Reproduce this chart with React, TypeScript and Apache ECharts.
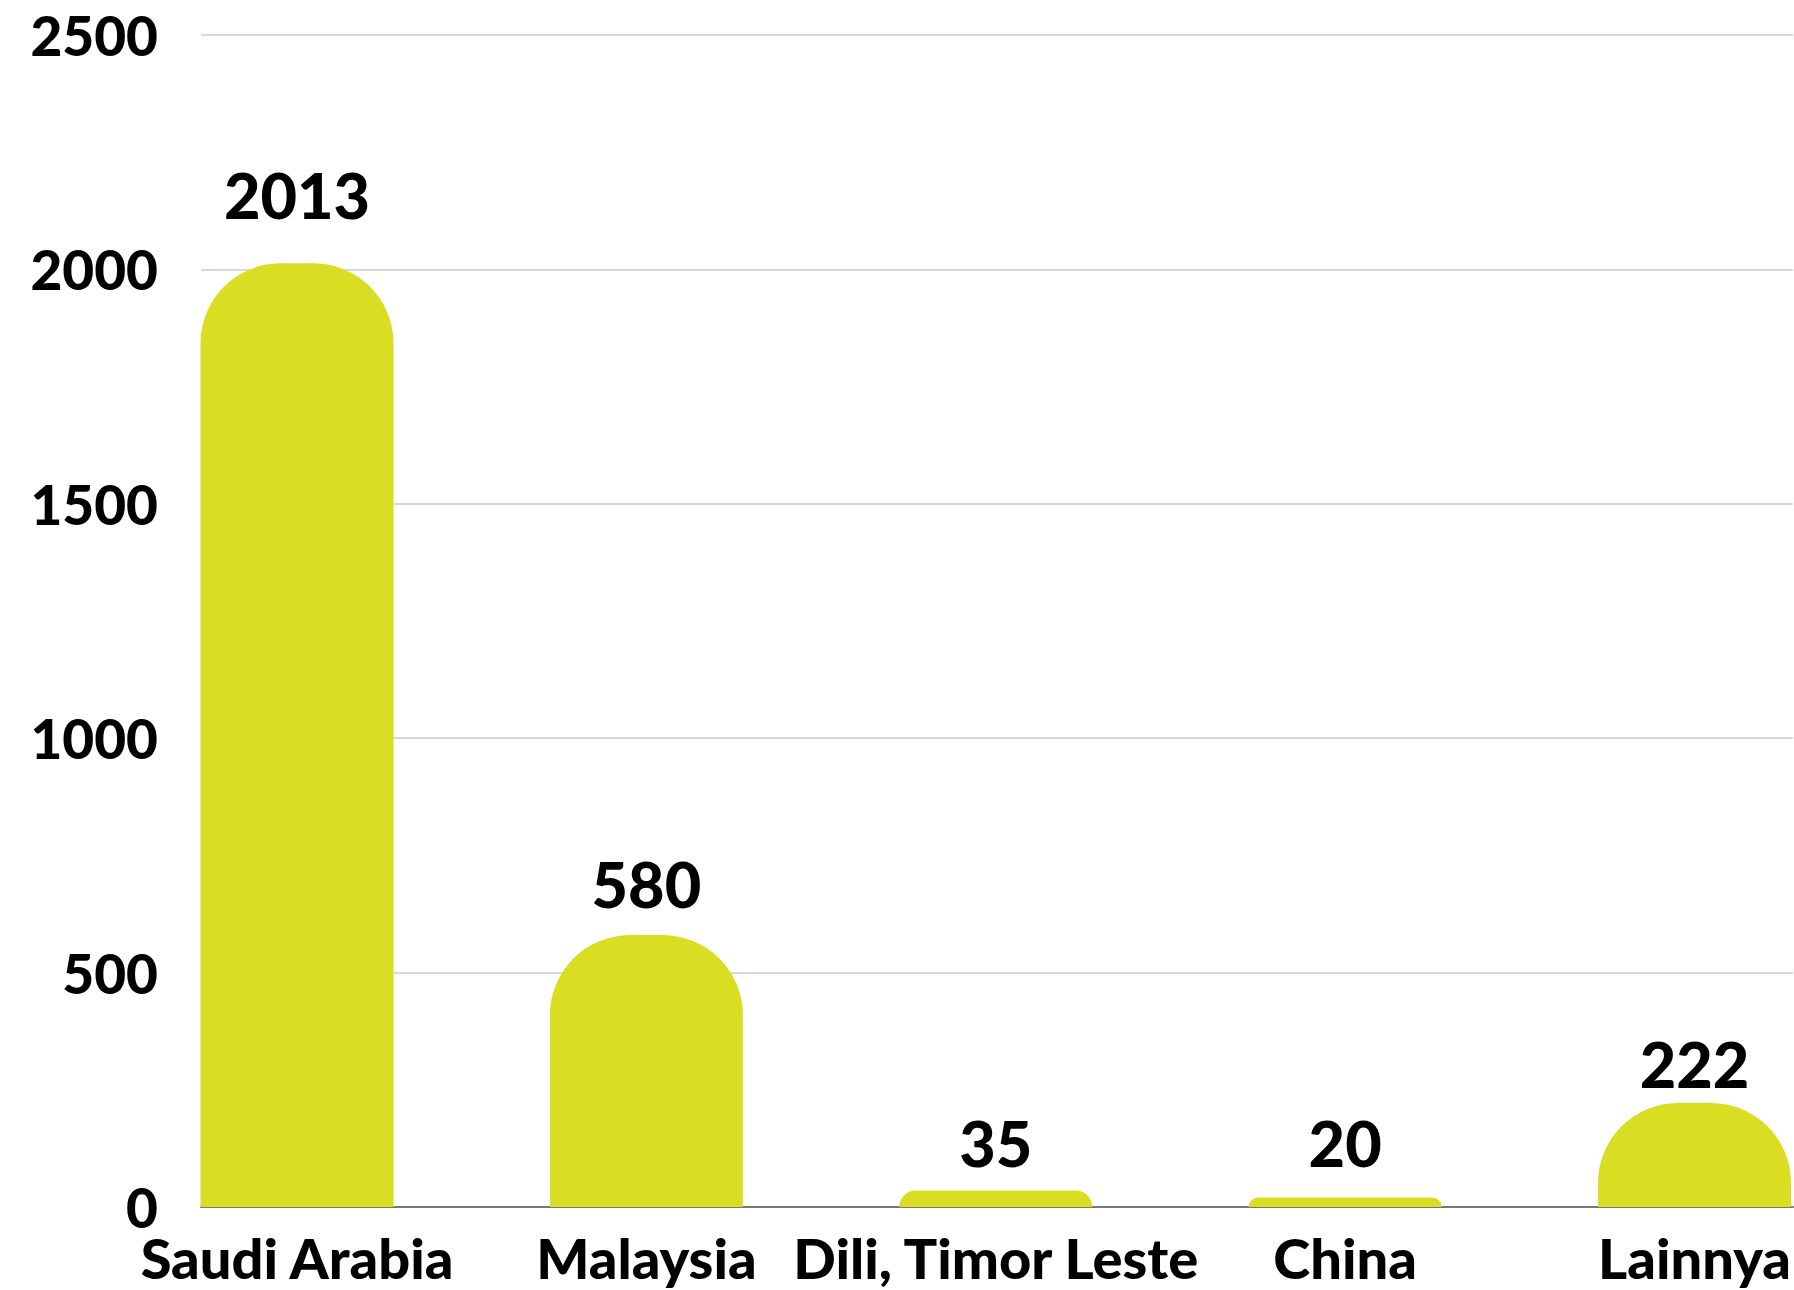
import React, { useEffect, useRef } from "react";
import * as echarts from "echarts";

const categories = ["Saudi Arabia", "Malaysia", "Dili, Timor Leste", "China", "Lainnya"];
const values = [2013, 580, 35, 20, 222];
const labelGaps = [37, 20, 17, 24, 8];
const yTicks = [0, 500, 1000, 1500, 2000, 2500];

const FONT = "Lato";
const BAR_COLOR = "#d9de23";

export default function App() {
  const ref = useRef<HTMLDivElement>(null);
  useEffect(() => {
    if (!ref.current) return;
    const chart = echarts.init(ref.current, null, { renderer: "svg" });
    const top = 35;
    const bottom = 83;
    chart.setOption({
      animation: false,
      backgroundColor: "#ffffff",
      grid: [
        { left: 201, right: 1, top, bottom },
        { left: 297, right: 98, top, bottom },
      ],
      xAxis: [
        {
          gridIndex: 0,
          type: "value",
          min: 0,
          max: 1,
          axisLine: { show: true, lineStyle: { color: "#777777", width: 2 } },
          axisTick: { show: false },
          axisLabel: { show: false },
          splitLine: { show: false },
        },
        {
          gridIndex: 1,
          type: "category",
          data: categories,
          boundaryGap: false,
          axisLine: { show: false },
          axisTick: { show: false },
          axisLabel: {
            show: true,
            interval: 0,
            margin: 28,
            lineHeight: 44,
            fontFamily: FONT,
            fontWeight: 900,
            fontSize: 56,
            color: "#000000",
          },
          splitLine: { show: false },
        },
      ],
      yAxis: [
        {
          gridIndex: 0,
          type: "value",
          min: yTicks[0],
          max: yTicks[yTicks.length - 1],
          interval: 500,
          axisLine: { show: false },
          axisTick: { show: false },
          axisLabel: {
            margin: 43,
            lineHeight: 44,
            fontFamily: FONT,
            fontWeight: 900,
            fontSize: 55,
            color: "#000000",
            formatter: (v: number) => String(v),
          },
          splitLine: { show: true, lineStyle: { color: "#cccccc", width: 1.5 } },
        },
        {
          gridIndex: 1,
          type: "value",
          min: yTicks[0],
          max: yTicks[yTicks.length - 1],
          interval: 500,
          show: false,
          splitLine: { show: false },
        },
      ],
      series: [
        {
          type: "bar",
          xAxisIndex: 1,
          yAxisIndex: 1,
          barWidth: 193,
          data: values.map((v, i) => ({
            value: v,
            label: { distance: labelGaps[i] },
          })),
          itemStyle: { color: BAR_COLOR, borderRadius: [80, 80, 0, 0] },
          label: {
            show: true,
            position: "top",
            fontFamily: FONT,
            fontWeight: 900,
            fontSize: 63,
            color: "#000000",
          },
        },
      ],
    });
    return () => chart.dispose();
  }, []);
  return (
    <div
      ref={ref}
      style={{ position: "fixed", left: 0, top: 0, width: 1794, height: 1290, background: "#fff" }}
    />
  );
}
